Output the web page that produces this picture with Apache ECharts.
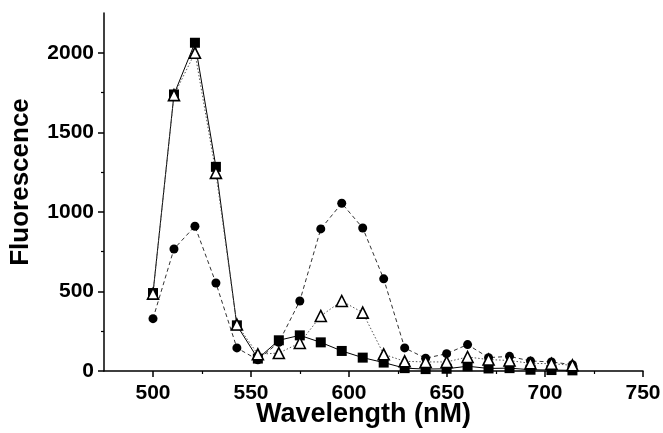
<!DOCTYPE html>
<html>
<head>
<meta charset="utf-8">
<script src="https://cdn.jsdelivr.net/npm/echarts@6/dist/echarts.min.js"></script>
<style>
  html, body { margin: 0; padding: 0; background: #fff; }
  #chart { width: 663px; height: 433px; }
</style>
</head>
<body>
<div id="chart"></div>
<script>
// wavelength of each reading (nM)
const wavelengths = [500, 510.7, 521.4, 532.1, 542.8, 553.5, 564.2, 574.9, 585.6, 596.3, 607,
  617.7, 628.4, 639.1, 649.8, 660.5, 671.2, 681.9, 692.6, 703.3, 714]
// filled squares, solid line
const squares = [490, 1738, 2063, 1283, 287, 78, 193, 224, 180, 126, 84,
  53, 18, 12, 14, 30, 16, 18, 8, 6, 4]
// open triangles, dotted line
const triangles = [486, 1734, 2000, 1245, 292, 105, 113, 176, 346, 440, 367,
  105, 61, 57, 57, 88, 72, 66, 48, 46, 36]
// filled circles, dashed line
const circles = [329, 767, 910, 553, 145, 70, 180, 440, 893, 1054, 899,
  579, 145, 80, 109, 166, 84, 92, 63, 57, 40]

const xTicks = [500, 550, 600, 650, 700, 750]
const xMinorTicks = [525, 575, 625, 675, 725]
const yTicks = [0, 500, 1000, 1500, 2000]
const yMinorTicks = [250, 750, 1250, 1750]

const pairs = vals => wavelengths.map((w, i) => [w, vals[i]])

const labelFont = {
  color: '#000',
  fontFamily: 'Liberation Sans',
  fontWeight: 'bold',
  fontSize: 21,
  formatter: v => String(v)
}

const chart = echarts.init(document.getElementById('chart'))

const option = {
  backgroundColor: '#fff',
  animation: false,
  grid: { left: 104, right: 20, top: 13, bottom: 62, containLabel: false, outerBoundsMode: 'none' },
  xAxis: [{
    type: 'value',
    min: 475,
    max: 750,
    name: 'Wavelength (nM)',
    nameLocation: 'middle',
    nameGap: 30,
    nameMoveOverlap: false,
    nameTextStyle: {
      color: '#000', fontFamily: 'Liberation Sans', fontWeight: 'bold', fontSize: 27,
      padding: [0, 20, 0, 0]
    },
    axisLine: { show: true, lineStyle: { color: '#000', width: 1.5 } },
    axisTick: { show: true, length: 6, customValues: xTicks, lineStyle: { color: '#000', width: 1.5 } },
    axisLabel: Object.assign({ customValues: xTicks, margin: 12 }, labelFont),
    splitLine: { show: false }
  }, {
    // minor ticks only
    type: 'value',
    position: 'bottom',
    min: 475,
    max: 750,
    axisLine: { show: false },
    axisTick: { show: true, length: 3, customValues: xMinorTicks, lineStyle: { color: '#000', width: 1.2 } },
    axisLabel: { show: false },
    splitLine: { show: false }
  }],
  yAxis: [{
    type: 'value',
    min: 0,
    max: 2250,
    name: 'Fluorescence',
    nameLocation: 'middle',
    nameGap: 70,
    nameMoveOverlap: false,
    nameTextStyle: {
      color: '#000', fontFamily: 'Liberation Sans', fontWeight: 'bold', fontSize: 26,
      padding: [0, 0, 0, 20]
    },
    axisLine: { show: true, lineStyle: { color: '#000', width: 1.5 } },
    axisTick: { show: true, length: 6, customValues: yTicks, lineStyle: { color: '#000', width: 1.5 } },
    axisLabel: Object.assign({ customValues: yTicks, margin: 10 }, labelFont),
    splitLine: { show: false }
  }, {
    type: 'value',
    position: 'left',
    min: 0,
    max: 2250,
    axisLine: { show: false },
    axisTick: { show: true, length: 3, customValues: yMinorTicks, lineStyle: { color: '#000', width: 1.2 } },
    axisLabel: { show: false },
    splitLine: { show: false }
  }],
  series: [
    {
      name: 'circles',
      type: 'line',
      data: pairs(circles),
      symbol: 'circle',
      symbolSize: 9,
      itemStyle: { color: '#000' },
      lineStyle: { color: '#333', width: 1, type: [4, 3] }
    },
    {
      name: 'squares',
      type: 'line',
      data: pairs(squares),
      symbol: 'rect',
      symbolSize: 10,
      itemStyle: { color: '#000' },
      lineStyle: { color: '#000', width: 1 }
    },
    {
      name: 'triangles',
      type: 'line',
      data: pairs(triangles),
      symbol: 'triangle',
      symbolSize: 11,
      itemStyle: { color: '#fff', borderColor: '#000', borderWidth: 1.6 },
      lineStyle: { color: '#555', width: 1, type: [1.5, 2] }
    }
  ]
}

chart.setOption(option)
</script>
</body>
</html>
